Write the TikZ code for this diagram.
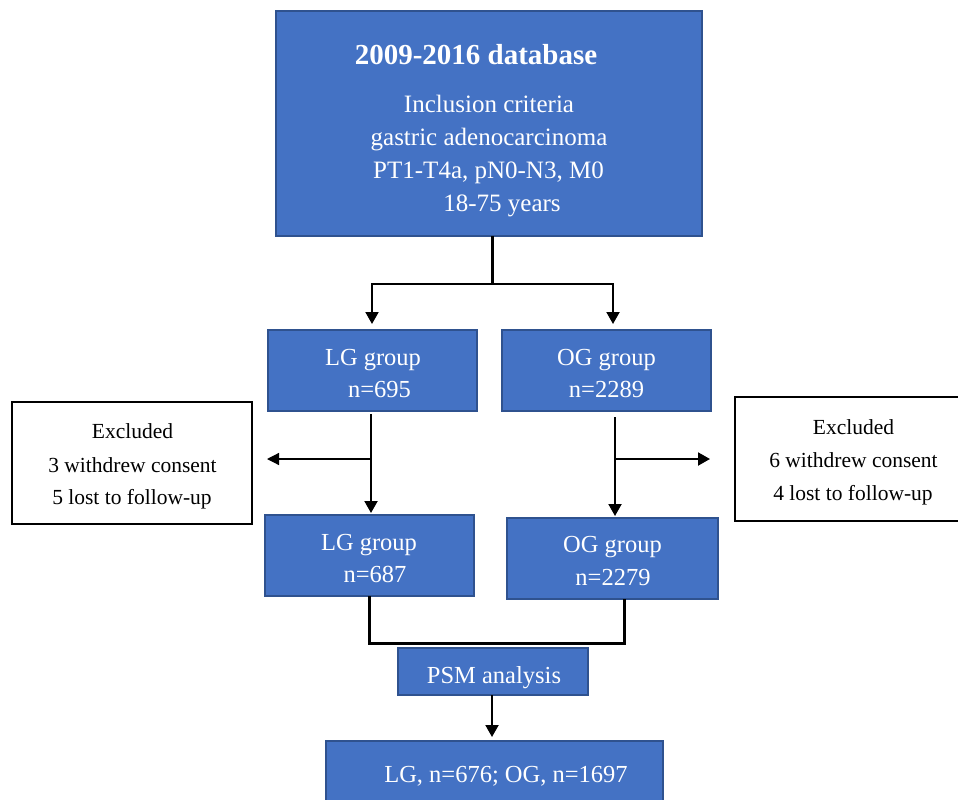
\documentclass[tikz,border=0pt]{standalone}
\usepackage{fontspec}
\setmainfont{Liberation Serif}
\usetikzlibrary{arrows.meta}
\definecolor{boxfill}{HTML}{4472C4}
\definecolor{boxline}{HTML}{2F528F}
\begin{document}
\begin{tikzpicture}[x=1pt,y=-1pt,
 bluebox/.style={draw=boxline,line width=1.5pt,fill=boxfill,inner sep=0pt,outer sep=0pt},
 whitebox/.style={draw=black,line width=2pt,fill=white,inner sep=0pt,outer sep=0pt},
 wtext/.style={text=white,font=\fontsize{24.5}{29}\selectfont,inner sep=0pt,anchor=base},
 ttext/.style={text=white,font=\fontsize{25}{30}\selectfont,inner sep=0pt,anchor=base},
 btext/.style={text=black,font=\fontsize{21.5}{26}\selectfont,inner sep=0pt,anchor=base},
 arr/.style={-{Triangle[width=13pt,length=12pt]},line width=2pt},
 thinarr/.style={-{Triangle[width=12pt,length=12pt]},line width=1.2pt},
 link/.style={line width=3pt}]
\useasboundingbox (0,0) rectangle (958,800);
\clip (0,0) rectangle (958,800);
% boxes
\node[bluebox,minimum width=426pt,minimum height=225pt] (top) at (489,123.5) {};
\node[bluebox,minimum width=209pt,minimum height=81pt] (lg1) at (372.5,370.5) {};
\node[bluebox,minimum width=209pt,minimum height=81pt] (og1) at (606.5,370.5) {};
\node[whitebox,minimum width=240pt,minimum height=122pt] (exL) at (132,463) {};
\node[whitebox,minimum width=227pt,minimum height=124pt] (exR) at (848.5,459) {};
\node[bluebox,minimum width=209pt,minimum height=81pt] (lg2) at (369.5,555.5) {};
\node[bluebox,minimum width=211pt,minimum height=81pt] (og2) at (612.5,558.5) {};
\node[bluebox,minimum width=190pt,minimum height=47pt] (psm) at (493,671.5) {};
\node[bluebox,minimum width=337pt,minimum height=69pt] (final) at (494.5,775.5) {};
% texts
\node[ttext,font=\fontsize{29}{34}\selectfont\bfseries] (t1) at (476,64) {2009-2016 database};
\node[ttext] (t2) at (489,112) {Inclusion criteria};
\node[ttext] (t3) at (489,145) {gastric adenocarcinoma};
\node[ttext] (t4) at (488.5,178) {PT1-T4a, pN0-N3, M0};
\node[ttext] (t5) at (502,211) {18-75 years};
\node[wtext] (lg1a) at (373,365) {LG group};
\node[wtext] (lg1b) at (379.5,397) {n=695};
\node[wtext] (og1a) at (606.5,365) {OG group};
\node[wtext] (og1b) at (606.5,397) {n=2289};
\node[wtext] (lg2a) at (369,550) {LG group};
\node[wtext] (lg2b) at (375,582) {n=687};
\node[wtext] (og2a) at (612.5,552) {OG group};
\node[wtext] (og2b) at (613,585) {n=2279};
\node[btext] (exL1) at (132.5,438) {Excluded};
\node[btext] (exL2) at (132.5,472) {3 withdrew consent};
\node[btext] (exL3) at (132,504) {5 lost to follow-up};
\node[btext] (exR1) at (853.5,434) {Excluded};
\node[btext] (exR2) at (853.5,467) {6 withdrew consent};
\node[btext] (exR3) at (853,500) {4 lost to follow-up};
\node[wtext] (psmt) at (494,683) {PSM analysis};
\node[wtext] (fint) at (506,782) {LG, n=676; OG, n=1697};
% connectors
\coordinate (tj) at (492,284);
\draw[link] (top.south -| tj) -- (tj);
\draw[arr] (tj) -| ([xshift=-0.5pt,yshift=6pt]lg1.north);
\draw[arr] (tj) -| ([xshift=6.5pt,yshift=6pt]og1.north);
\coordinate (lv) at (371,459);
\draw[arr] ([yshift=-3pt]lg1.south -| lv) -- ([yshift=2pt]lg2.north -| lv);
\draw[thinarr] (lv) -- ([xshift=15pt]exL.east |- lv);
\coordinate (rv) at (615,459);
\draw[arr] ([yshift=-6pt]og1.south -| rv) -- ([yshift=2pt]og2.north -| rv);
\draw[arr] (rv) -- ([xshift=-25pt]exR.west |- rv);
\coordinate (jl) at (369,643);
\coordinate (jr) at (624,643);
\draw[link] (lg2.south -| jl) -- (jl) -- (jr) -- (og2.south -| jr);
\draw[arr] ([xshift=-1pt]psm.south) -- ([xshift=-1pt,yshift=4pt]psm.south |- final.north);
\end{tikzpicture}
\end{document}
